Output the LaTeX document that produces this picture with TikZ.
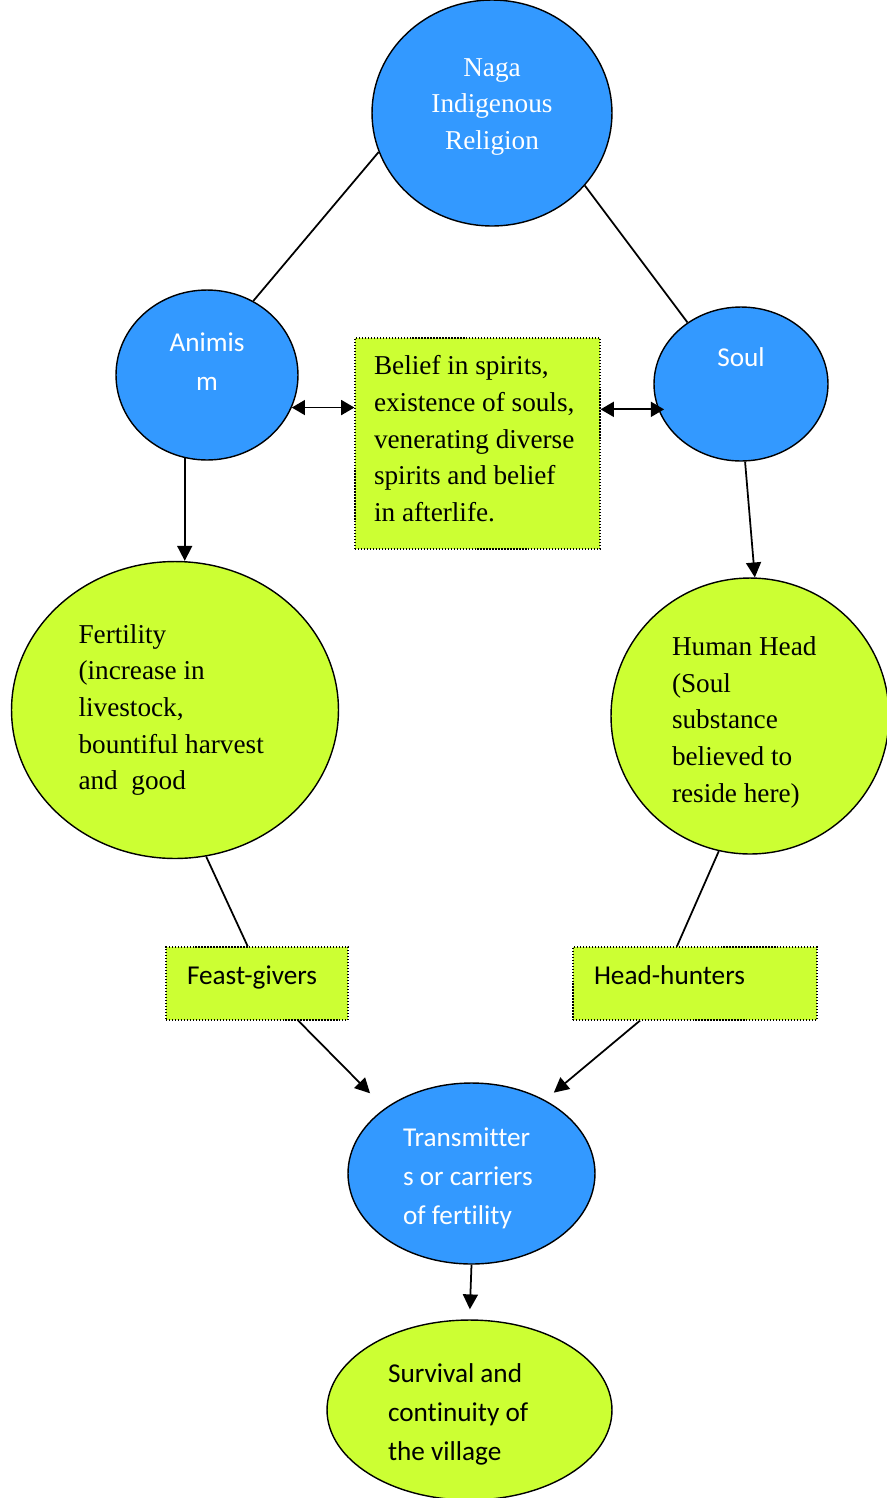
\documentclass[tikz,border=0pt]{standalone}
\usepackage{fontspec}
\setmainfont{Liberation Serif}
\setsansfont{Carlito}[Ligatures=CommonOff]
\usetikzlibrary{arrows.meta,shapes.geometric}
\definecolor{nagablue}{RGB}{51,153,255}
\definecolor{nagalime}{RGB}{204,255,51}

\begin{document}
\begin{tikzpicture}[
  x=0.02cm, y=-0.02cm,
  serif/.style={font=\fontsize{15.5}{20.8}\selectfont},
  sans/.style={font=\sffamily\fontsize{15.5}{22.2}\selectfont},
  oval/.style={draw, line width=0.8pt, ellipse, inner sep=0pt},
  blueoval/.style={oval, fill=nagablue, text=white},
  limeoval/.style={oval, fill=nagalime},
  dotbox/.style={draw, line width=0.7pt, densely dotted, fill=nagalime, rectangle, inner sep=0pt},
  link/.style={line width=1pt},
  arr/.style={link, -{Triangle[length=8.5pt,width=8.5pt]}},
  dbl/.style={link, {Triangle[length=7.5pt,width=8.5pt]}-{Triangle[length=7.5pt,width=8.5pt]}}
]
\useasboundingbox (0,0) rectangle (886,1498);

\node[blueoval, serif, align=center, minimum width=4.8cm, minimum height=4.52cm, text depth=0.36cm] (naga) at (492,113) {Naga\\Indigenous\\Religion};
\node[blueoval, sans, align=center, minimum width=3.64cm, minimum height=3.4cm, text depth=0.52cm] (anim) at (207,375) {Animis\\m};
\node[blueoval, sans, minimum width=3.48cm, minimum height=3.08cm, text depth=1.08cm] (soul) at (741,384) {Soul};
\node[dotbox, serif, align=flush left, text width=4.14cm, minimum width=4.9cm, minimum height=4.22cm, text depth=88.9pt] (belief) at (477.5,443.5) {Belief in spirits,\\existence of souls,\\venerating diverse\\spirits and belief\\in afterlife.};
\node[limeoval, serif, align=flush left, text width=3.86cm, minimum width=6.54cm, minimum height=5.94cm] (fert) at (175,710) {Fertility\\(increase in\\livestock,\\bountiful harvest\\and~ good};
\node[limeoval, serif, align=flush left, text width=3.12cm, minimum width=5.56cm, minimum height=5.52cm, text depth=79.2pt] (head) at (750,716) {Human Head\\(Soul\\substance\\believed to\\reside here)};
\node[dotbox, sans, align=flush left, text width=2.8cm, inner xsep=0.42cm, minimum height=1.46cm, text depth=0.35cm] (feast) at (257,983.5) {Feast-givers};
\node[dotbox, sans, align=flush left, text width=4.04cm, inner xsep=0.42cm, minimum height=1.46cm, text depth=0.35cm] (hunters) at (695,983.5) {Head-hunters};
\node[blueoval, sans, align=flush left, text width=2.74cm, minimum width=4.94cm, minimum height=3.62cm, text depth=41.6pt] (trans) at (471.5,1173.5) {Transmitter\\s or carriers\\of fertility};
\node[limeoval, sans, align=flush left, text width=3.26cm, minimum width=5.7cm, minimum height=3.6cm, text depth=41.7pt] (surv) at (469.5,1410) {Survival and\\continuity of\\the village};

\draw[link] (naga.199) -- (anim.58);
\draw[link] (naga.-38) -- (soul.131);
\draw[dbl] (anim.-21) -- (anim.-21 -| belief.west);
\draw[dbl, shorten >=-0.12cm] (belief.east |- soul.197) -- (soul.197);
\draw[arr] (anim.-105) -- (anim.-105 |- fert.north);
\draw[arr] (soul.-87) -- (head.88);
\draw[link] (fert.-78) -- (feast.104);
\draw[link] (head.-103) -- (hunters.116);
\draw[arr, shorten >=0.42cm] (feast.-42) -- (trans.143);
\draw[arr, shorten >=0.23cm] (hunters.-146) -- (trans.45);
\draw[arr, shorten >=0.2cm] (trans.south) -- (surv.north);
\end{tikzpicture}
\end{document}
